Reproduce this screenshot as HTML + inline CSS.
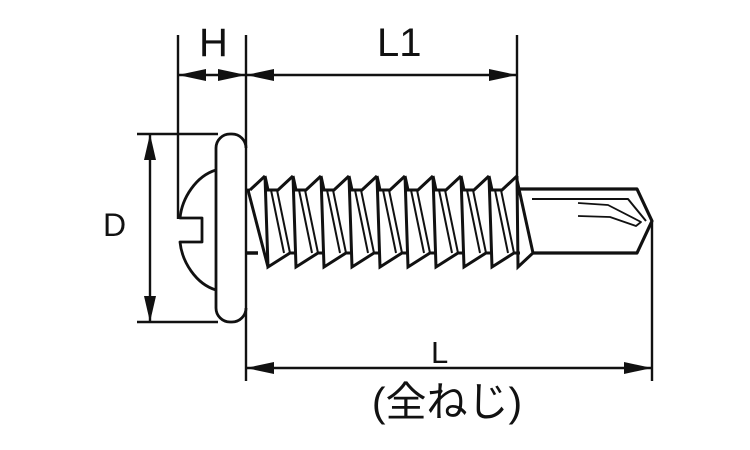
<!DOCTYPE html>
<html><head><meta charset="utf-8"><style>
html,body{margin:0;padding:0;background:#fff}
svg{display:block}
text{font-family:"Liberation Sans","Noto Sans CJK JP",sans-serif;fill:#111}
</style></head><body>
<svg width="750" height="450" viewBox="0 0 750 450" xmlns="http://www.w3.org/2000/svg">
<g stroke="#111" fill="none" stroke-width="2.4">
  <line x1="178" y1="35" x2="178" y2="219"/>
  <line x1="246" y1="35" x2="246" y2="381"/>
  <line x1="517" y1="35" x2="517" y2="178"/>
  <line x1="652" y1="221" x2="652" y2="381"/>
  <line x1="137" y1="134" x2="218" y2="134"/>
  <line x1="137" y1="322" x2="218" y2="322"/>
  <line x1="178" y1="75" x2="246" y2="75"/>
  <line x1="246" y1="75" x2="517" y2="75"/>
  <line x1="246" y1="368" x2="652" y2="368"/>
  <line x1="150" y1="134" x2="150" y2="322"/>
</g>
<g fill="#111">
  <polygon points="178,75 206,69 206,81"/>
  <polygon points="246,75 218,69 218,81"/>
  <polygon points="246,75 274,69 274,81"/>
  <polygon points="517,75 489,69 489,81"/>
  <polygon points="246,368 274,362 274,374"/>
  <polygon points="652,368 624,362 624,374"/>
  <polygon points="150,134 144,160 156,160"/>
  <polygon points="150,322 144,296 156,296"/>
</g>
<g stroke="#111" fill="none" stroke-width="2.8" stroke-linejoin="round">
  <path d="M246,148 A14,14 0 0 0 232,134 L230,134 A14,14 0 0 0 216,148 L216,308 A14,14 0 0 0 230,322 L232,322 A14,14 0 0 0 246,308"/>
  <path d="M216,170 C196,176 182,198 180,218 L202,218 L202,242 L180,242 C182,262 196,284 216,290"/>
  <line x1="246" y1="190" x2="250" y2="190"/>
  <line x1="246" y1="253" x2="258" y2="253" stroke-width="3.5"/>
  <path d="M517,189 L637,189 L652,221 L637,253 L533,253" stroke-width="3.2"/>
  <path d="M532,199 L628,199 L646,221" stroke-width="2"/>
  <path d="M578,203 L608,205 L641,222 L636,226 L610,217 L578,216" stroke-width="1.8"/>
</g>
<g stroke="#111" fill="none" stroke-width="3" stroke-linejoin="miter">
  <path d="M250,190 L265,176"/>
  <path d="
  M265,176 L268,190 L278,190 L293,176 M265,176 L268,267 L290,253 L296,253
  M293,176 L296,190 L306,190 L321,176 M293,176 L296,267 L318,253 L324,253
  M321,176 L324,190 L334,190 L349,176 M321,176 L324,267 L346,253 L352,253
  M349,176 L352,190 L362,190 L377,176 M349,176 L352,267 L374,253 L380,253
  M377,176 L380,190 L390,190 L405,176 M377,176 L380,267 L402,253 L408,253
  M405,176 L408,190 L418,190 L433,176 M405,176 L408,267 L430,253 L436,253
  M433,176 L436,190 L446,190 L461,176 M433,176 L436,267 L458,253 L464,253
  M461,176 L464,190 L474,190 L489,176 M461,176 L464,267 L486,253 L492,253
  M489,176 L492,190 L502,190 L517,176 M489,176 L492,267 L514,253 L520,253
  M517,176 L518,267 L534,252
  M517,180 L533,253
  M248,190 L268,267
  "/>
  <path stroke-width="2" d="
  M271,190 L284,253 M277,190 L290,253
  M299,190 L312,253 M305,190 L318,253
  M327,190 L340,253 M333,190 L346,253
  M355,190 L368,253 M361,190 L374,253
  M383,190 L396,253 M389,190 L402,253
  M411,190 L424,253 M417,190 L430,253
  M439,190 L452,253 M445,190 L458,253
  M467,190 L480,253 M473,190 L486,253
  M495,190 L508,253 M501,190 L514,253
  "/>
</g>
<text x="199" y="56" font-size="40">H</text>
<text x="377" y="56" font-size="40">L1</text>
<text x="103" y="236" font-size="32">D</text>
<text x="431" y="363" font-size="31">L</text>
<text x="447" y="416" font-size="41" text-anchor="middle">(全ねじ)</text>
</svg>
</body></html>
